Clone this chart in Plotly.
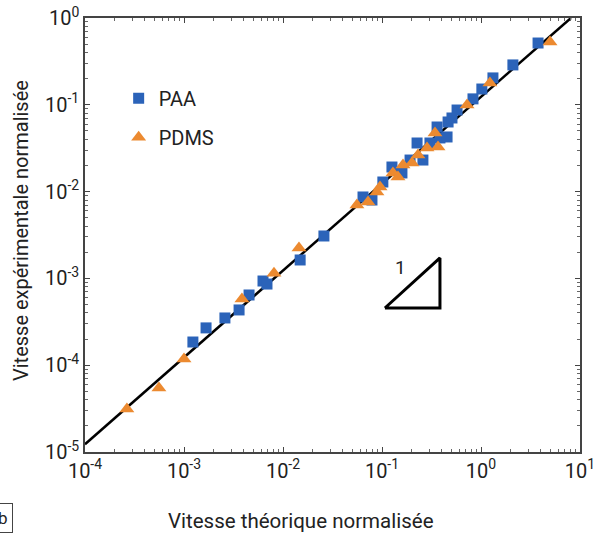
import plotly.graph_objects as go

# PAA (squares)
paa_x = [1.23e-3, 1.67e-3, 2.59e-3, 3.60e-3, 4.54e-3, 6.28e-3, 6.89e-3, 1.49e-2, 2.59e-2,
         6.43e-2, 7.92e-2, 0.102, 0.126, 0.159, 0.192, 0.226, 0.259, 0.305, 0.360, 0.385,
         0.454, 0.465, 0.509, 0.573, 0.830, 1.02, 1.32, 2.10, 3.77]
paa_y = [1.85e-4, 2.69e-4, 3.50e-4, 4.33e-4, 6.44e-4, 9.33e-4, 8.61e-4, 1.63e-3, 3.08e-3,
         8.67e-3, 8.00e-3, 1.29e-2, 1.92e-2, 1.64e-2, 2.31e-2, 3.63e-2, 2.31e-2, 3.63e-2, 5.55e-2, 4.15e-2,
         4.26e-2, 6.34e-2, 7.05e-2, 8.71e-2, 0.117, 0.152, 0.204, 0.288, 0.515]

# PDMS (triangles)
pdms_x = [2.65e-4, 5.58e-4, 1.0e-3, 3.85e-3, 8.11e-3, 1.45e-2, 5.58e-2, 7.23e-2, 8.89e-2,
          9.55e-2, 0.129, 0.145, 0.163, 0.201, 0.231, 0.285, 0.343, 0.368, 0.723, 1.23, 4.98]
pdms_y = [3.13e-5, 5.46e-5, 1.18e-4, 5.79e-4, 1.15e-3, 2.24e-3, 7.01e-3, 7.59e-3, 9.89e-3,
          1.13e-2, 1.64e-2, 1.47e-2, 2.02e-2, 2.13e-2, 2.64e-2, 3.18e-2, 4.73e-2, 3.27e-2, 9.95e-2, 0.178, 0.530]

# Fit line (slope 1 in log-log)
fit_x = [1.0e-4, 8.1]
fit_y = [1.23e-5, 1.0]

# Slope triangle
tri_x = [0.107, 0.385, 0.385, 0.107]
tri_y = [4.56e-4, 4.56e-4, 1.72e-3, 4.56e-4]

x_tickvals = [1e-4, 1e-3, 1e-2, 1e-1, 1e0, 1e1]
x_ticktext = ["10<sup>-4</sup>", "10<sup>-3</sup>", "10<sup>-2</sup>", "10<sup>-1</sup>", "10<sup>0</sup>", "10<sup>1</sup>"]
y_tickvals = [1e-5, 1e-4, 1e-3, 1e-2, 1e-1, 1e0]
y_ticktext = ["10<sup>-5</sup>", "10<sup>-4</sup>", "10<sup>-3</sup>", "10<sup>-2</sup>", "10<sup>-1</sup>", "10<sup>0</sup>"]

BLUE = "#2b63b9"
ORANGE = "#ec8a30"
FONT = "Roboto"

fig = go.Figure()
fig.add_trace(go.Scatter(x=fit_x, y=fit_y, mode="lines", line=dict(color="black", width=2.5),
                         showlegend=False, hoverinfo="skip"))
fig.add_trace(go.Scatter(x=paa_x, y=paa_y, mode="markers", name="PAA", legendgroup="a",
                         marker=dict(symbol="square", size=11, color=BLUE)))
fig.add_trace(go.Scatter(x=pdms_x, y=pdms_y, mode="markers", name="PDMS", legendgroup="b",
                         marker=dict(symbol="triangle-up", size=13, color=ORANGE)))
fig.add_trace(go.Scatter(x=tri_x, y=tri_y, mode="lines", line=dict(color="black", width=3),
                         showlegend=False, hoverinfo="skip"))

axis_common = dict(
    type="log", showgrid=False, zeroline=False, automargin=False,
    showline=True, linecolor="#444", linewidth=1.5, mirror="allticks",
    ticks="inside", ticklen=5, tickcolor="#444", tickwidth=1,
    minor=dict(ticks="inside", ticklen=3, tickcolor="#666", dtick="D1", showgrid=False),
    tickfont=dict(family=FONT, size=20, color="#222"),
    ticklabeloverflow="allow",
)

fig.update_xaxes(range=[-4, 1], tickvals=x_tickvals, ticktext=x_ticktext, **axis_common)
fig.update_yaxes(range=[-5, 0], tickvals=y_tickvals, ticktext=y_ticktext, **axis_common)

fig.update_layout(
    width=594, height=535,
    margin=dict(l=85, r=14, t=18, b=83),
    paper_bgcolor="white", plot_bgcolor="white",
    font=dict(family=FONT, color="#222"),
    showlegend=True,
    legend=dict(x=0.068, y=0.86, xanchor="left", yanchor="top",
                font=dict(family=FONT, size=20, color="#222"),
                bgcolor="rgba(0,0,0,0)", tracegroupgap=10, traceorder="grouped",
                itemwidth=30),
    annotations=[
        dict(text="Vitesse théorique normalisée", xref="paper", yref="paper",
             x=(301 - 85) / 495, y=-(521 - 452) / 434, xanchor="center", yanchor="middle",
             showarrow=False, font=dict(family=FONT, size=20.5, color="#222")),
        dict(text="Vitesse expérimentale normalisée", xref="paper", yref="paper",
             x=-(85 - 21) / 495, y=1 - (231 - 18) / 434, xanchor="center", yanchor="middle",
             textangle=-90, showarrow=False, font=dict(family=FONT, size=20, color="#222")),
        dict(text="1", xref="x", yref="y", x=-0.818, y=-2.88, showarrow=False,
             font=dict(family=FONT, size=19, color="#222")),
        dict(text="b", xref="paper", yref="paper", x=-(85 - 13) / 495, y=-(518 - 452) / 434,
             xanchor="right", yanchor="middle", showarrow=False, bordercolor="#444", borderwidth=1,
             borderpad=4, font=dict(family=FONT, size=17, color="#222")),
    ],
)

fig.write_html("out.html", config={"displayModeBar": False},
               post_script="document.body.style.margin='0';document.body.style.overflow='hidden';")
